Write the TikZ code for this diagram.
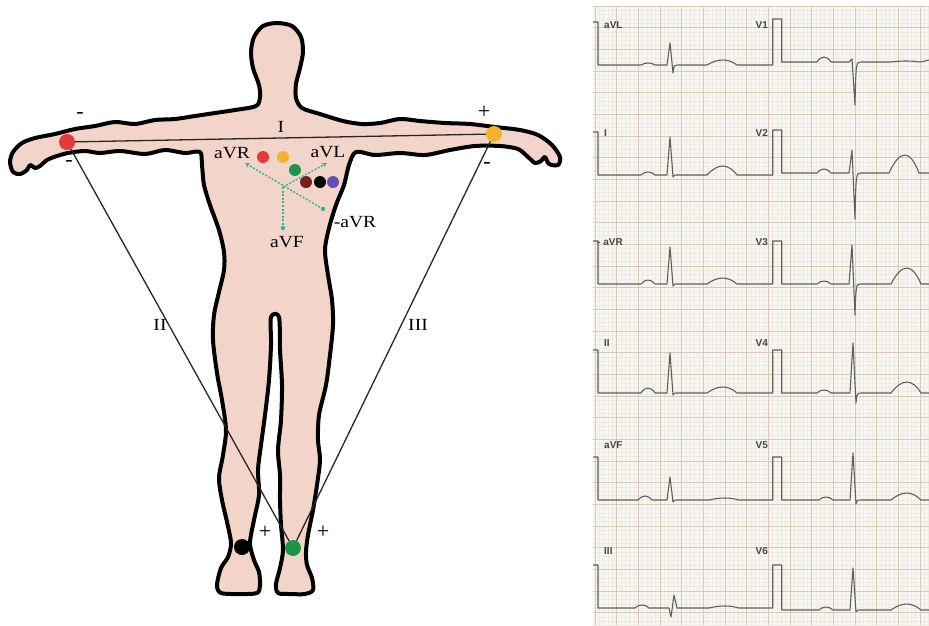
\documentclass[tikz,border=0pt]{standalone}
\usepackage{fontspec}
\setmainfont{Liberation Serif}
\newfontfamily\ecgfont{Liberation Sans}
\usetikzlibrary{arrows.meta}

\definecolor{skin}{RGB}{242,213,200}
\definecolor{paper}{RGB}{247,246,242}
\definecolor{minorline}{RGB}{239,235,228}
\definecolor{majorline}{RGB}{216,202,180}
\definecolor{tracecol}{RGB}{95,95,95}
\definecolor{vecteal}{RGB}{52,180,150}
\definecolor{ered}{RGB}{232,56,56}
\definecolor{eorange}{RGB}{245,178,45}
\definecolor{egreen}{RGB}{28,150,70}
\definecolor{ebrown}{RGB}{120,30,30}
\definecolor{epurple}{RGB}{100,80,180}

% one heart beat along a baseline:
% #1 P x, #2 QRS x, #3 T x, #4 baseline, #5 P, #6 Q, #7 R, #8 S, #9 T
\newcommand\ecgbeat[9]{%
 -- ({#1-7},#4) .. controls ({#1-3},{#4-1.33*#5}) and ({#1+3},{#4-1.33*#5}) .. ({#1+7},#4)
 -- ({#2-5},#4) -- ({#2-3},{#4+#6}) -- (#2,{#4-#7}) -- ({#2+3},{#4+#8})
 .. controls ({#2+4},#4) .. ({#2+9},#4)
 -- ({#3-16},#4) .. controls ({#3-5},{#4-1.33*#9}) and ({#3+5},{#4-1.33*#9}) .. ({#3+14},#4)}

\tikzset{
  body/.style={draw=black, fill=skin, line width=4pt, line join=round},
  leadline/.style={draw=black!85, line width=1.3pt},
  elec/.style={circle, inner sep=0pt, minimum size=16pt},
  chestel/.style={circle, inner sep=0pt, minimum size=12pt},
  vec/.style={draw=vecteal, line width=1.4pt, dash pattern=on 2pt off 1.6pt},
  lbl/.style={inner sep=0pt, font=\fontsize{17}{17}\selectfont, xscale=1.15},
  sign/.style={inner sep=0pt, font=\fontsize{22}{22}\selectfont},
  trace/.style={draw=tracecol, line width=1.1pt, line join=round},
  ecglbl/.style={inner sep=0pt, anchor=west, text=black!72, font=\ecgfont\bfseries\fontsize{10}{10}\selectfont},
}

\begin{document}
\begin{tikzpicture}[x=1pt, y=-1pt]
\useasboundingbox (0,0) rectangle (929,625);

% ---------- ECG paper ----------
\begin{scope}
  \clip (593,6) rectangle (929,625);
  \fill[paper] (593,6) rectangle (929,625);
  \foreach \i in {0,...,78} {
    \draw[minorline, line width=0.4pt] ({595+\i*4.3333},6) -- ({595+\i*4.3333},625);
  }
  \foreach \j in {0,...,143} {
    \draw[minorline, line width=0.4pt] (593,{6+\j*4.3333}) -- (929,{6+\j*4.3333});
  }
  \foreach \i in {0,...,16} {
    \draw[majorline, line width=0.9pt] ({595+\i*21.6667},6) -- ({595+\i*21.6667},625);
  }
  \foreach \j in {0,...,29} {
    \draw[majorline, line width=0.9pt] (593,{6+\j*21.6667}) -- (929,{6+\j*21.6667});
  }

  % row 1: aVL / V1
  \draw[trace] (593,22) -- (598,22) -- (598,65)
    \ecgbeat{648}{670}{723}{65}{2}{0}{22}{8}{5} -- (772.7,65)
    -- (772.7,19) -- (781.7,19) -- (781.7,62)
    \ecgbeat{824}{852}{906}{62}{5}{0}{3}{43}{1} -- (929,60);
  % row 2: I / V2
  \draw[trace] (593,132) -- (598,132) -- (598,175)
    \ecgbeat{648}{670}{723}{175}{3}{0}{38}{2}{9} -- (772.7,175)
    -- (772.7,130) -- (781.7,130) -- (781.7,173)
    \ecgbeat{824}{852}{905}{173}{4}{0}{23}{46}{18} -- (929,173);
  % row 3: -aVR / V3
  \draw[trace] (593,241) -- (598,241) -- (598,284)
    \ecgbeat{648}{670}{723}{284}{4}{0}{37}{2}{6} -- (772.7,284)
    -- (772.7,241) -- (781.7,241) -- (781.7,284)
    \ecgbeat{824}{852}{907}{284}{3}{0}{39}{31}{16} -- (929,284);
  % row 4: II / V4
  \draw[trace] (593,350) -- (598,350) -- (598,393)
    \ecgbeat{648}{670}{723}{393}{5}{0}{40}{2}{6} -- (772.7,393)
    -- (772.7,350) -- (781.7,350) -- (781.7,393)
    \ecgbeat{824}{853}{907}{393}{3}{0}{50}{10}{11} -- (929,393);
  % row 5: aVF / V5
  \draw[trace] (593,457) -- (598,457) -- (598,500)
    \ecgbeat{645}{670}{725}{500}{4}{0}{23}{2}{2} -- (772.7,500)
    -- (772.7,457) -- (781.7,457) -- (781.7,500)
    \ecgbeat{826}{853}{907}{500}{3}{0}{47}{4}{7} -- (929,500);
  % row 6: III / V6
  \draw[trace] (593,565) -- (598,565) -- (598,608)
    \ecgbeat{642}{674}{725}{608}{3}{9}{13}{0}{2} -- (772.7,608)
    -- (772.7,565) -- (781.7,565) -- (781.7,610)
    \ecgbeat{826}{853}{907}{610}{3}{0}{42}{2}{6} -- (929,610);
\end{scope}

% lead names on the strips
\node[ecglbl] (naVL) at (604,25) {aVL};
\node[ecglbl] (nV1)  at (755.5,25) {V1};
\node[ecglbl] (nI)   at (604,133) {I};
\node[ecglbl] (nV2)  at (755.5,133) {V2};
\node[ecglbl] (nmaVR) at (597,242) {- aVR};
\node[ecglbl] (nV3)  at (755.5,242) {V3};
\node[ecglbl] (nII)  at (604,343) {II};
\node[ecglbl] (nV4)  at (755.5,343) {V4};
\node[ecglbl] (naVF) at (604,445) {aVF};
\node[ecglbl] (nV5)  at (755.5,445) {V5};
\node[ecglbl] (nIII) at (604,551) {III};
\node[ecglbl] (nV6)  at (755.5,551) {V6};

% ---------- body silhouette ----------
\draw[body] plot[smooth cycle, tension=0.5] coordinates {
  (277,23) (292,26) (301,37) (303,52) (300,68) (296,84) (296,98) (302,108)
  (320,114) (343,121) (362,124) (380,123) (400,119) (420,121) (445,123)
  (470,124) (495,127) (520,130) (538,135) (552,145) (560,157) (558,165)
  (549,164) (545,157) (541,161) (535,163) (528,157) (518,149) (500,146)
  (475,146) (450,150) (425,155) (400,153) (375,155) (356,152)
  (349,165) (344,185) (336,205) (329,228) (325,250) (328,275) (332,300)
  (333,325) (330,355) (326,385) (319,415) (318,440) (320,460) (317,485)
  (313,510) (308,535) (306,552) (307,565) (312,578) (313,590) (305,594)
  (290,594) (278,593) (276,584) (280,568) (283,550) (281,525) (280,500)
  (280,475) (278,450) (281,420) (282,385) (280,350) (279,317) (271,317)
  (271,345) (269,380) (265,415) (261,445) (258,470) (259,495) (254,520)
  (250,543) (254,560) (259,572) (260,585) (257,593) (240,594) (221,593)
  (217,585) (221,568) (228,557) (231,543) (227,522) (222,500) (219,478)
  (223,455) (226,430) (222,400) (217,373) (213,340) (214,315) (219,292)
  (224,270) (224,252) (219,230) (210,205) (204,185) (202,165) (200,152)
  (185,153) (165,150) (145,154) (120,151) (100,153) (85,151) (68,153)
  (57,156) (47,160) (40,166) (35,168) (30,165) (27,170) (20,174) (13,172)
  (10,162) (13,152) (22,143) (35,138) (55,134) (75,129) (95,126) (115,122)
  (135,124) (155,120) (175,119) (195,116) (215,113) (235,110) (256,106)
  (260,97) (259,85) (253,68) (251,52) (254,37) (263,26)
};

% ---------- limb electrodes and Einthoven triangle ----------
\node[elec, fill=ered]    (RA) at (67,142) {};
\node[elec, fill=eorange] (LA) at (494,134) {};
\node[elec, fill=black]   (RL) at (242,547) {};
\node[elec, fill=egreen]  (LL) at (293,548) {};

\draw[leadline] (RA) -- (LA);
\draw[leadline] (RA) -- (LL);
\draw[leadline] (LA) -- (LL);

% ---------- precordial electrodes ----------
\node[chestel, fill=ered]    (V1e) at (263,157) {};
\node[chestel, fill=eorange] (V2e) at (283,157) {};
\node[chestel, fill=egreen]  (V3e) at (295,170) {};
\node[chestel, fill=ebrown]  (V4e) at (306,182) {};
\node[chestel, fill=black]   (V5e) at (320,182) {};
\node[chestel, fill=epurple] (V6e) at (333,182) {};

% ---------- augmented lead axes ----------
\coordinate (ctr) at (283,187);
\coordinate (aVRtip) at (245,163);
\coordinate (aVLtip) at (327,163);
\coordinate (aVFend) at (283,228);
\coordinate (maVRend) at (323,209);
\draw[vec, -{Stealth[length=5pt,width=5pt]}] (maVRend) -- (aVRtip);
\draw[vec, -{Stealth[length=5pt,width=5pt]}] (ctr) -- (aVLtip);
\draw[vec] (ctr) -- (aVFend);
\fill[vecteal] (aVFend) circle (2.2pt);
\fill[vecteal] (maVRend) circle (2.2pt);

% ---------- labels ----------
\node[lbl] (tI)    at (281,127) {I};
\node[lbl] (tII)   at (160,325) {II};
\node[lbl] (tIII)  at (418,325) {III};
\node[lbl] (taVR)  at (232,153) {aVR};
\node[lbl] (taVL)  at (328,152) {aVL};
\node[lbl] (taVF)  at (287,242) {aVF};
\node[lbl] (tmaVR) at (355,222) {-aVR};

\node[sign] (sRAup) at (80,115) {-};
\node[sign] (sRAdn) at (69,163) {-};
\node[sign] (sLAup) at (484,112) {+};
\node[sign] (sLAdn) at (487,165) {-};
\node[sign] (sRL)   at (265,532) {+};
\node[sign] (sLL)   at (323,532) {+};
\end{tikzpicture}
\end{document}
